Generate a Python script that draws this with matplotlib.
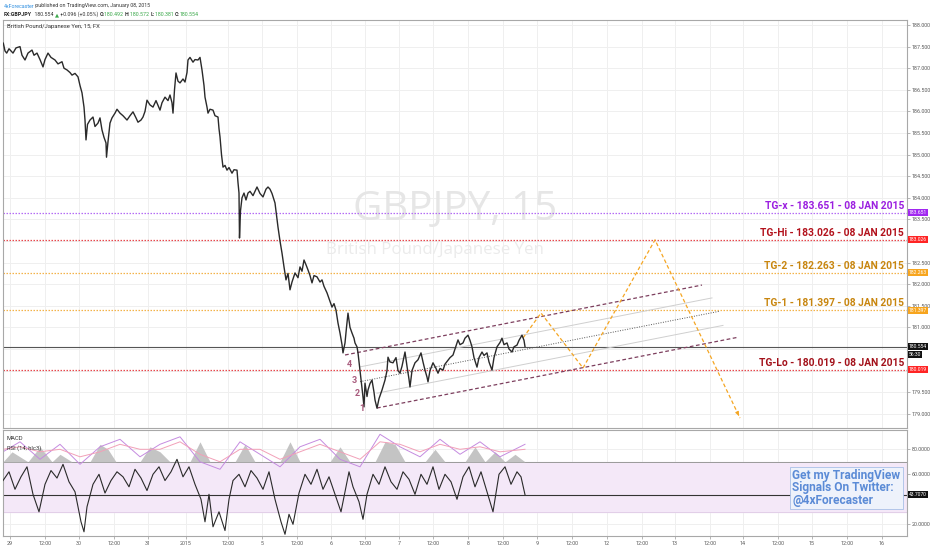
import matplotlib

matplotlib.use("Agg")

import matplotlib.pyplot as plt
import numpy as np
from matplotlib.transforms import blended_transform_factory

# ---- data --------------------------------------------------------------------
# chart time: trading-session timeline, 69 units per trading day (~21 min/unit)
price_t = [
    3.3, 5, 6.7, 9, 13, 16, 20, 22, 25, 28, 32, 34, 37, 40, 43, 45, 48, 51, 55, 58,
    62, 64, 67, 70, 72, 75, 78, 80, 82, 84, 85, 86, 87.5, 90, 93, 95, 98, 100, 102, 104,
    106, 106.5, 108, 110, 112, 115, 117, 120, 123, 127, 130, 133, 136, 138, 141, 143, 145, 147, 150, 153,
    156, 160, 162, 165, 168, 170, 172, 173, 174.5, 176, 178, 180, 183, 185, 187, 188, 190, 193, 195, 198,
    200, 202, 204, 205, 207, 208, 210, 213, 215, 218, 219, 220, 221.5, 223, 225, 227, 229, 232, 234, 237,
    238, 239, 239.5, 240.5, 242, 244, 246, 248, 250, 253, 257, 260, 263, 266, 268, 270, 272, 275, 278, 280,
    282, 284, 286, 288, 290, 292, 295, 298, 300, 302, 304, 306, 308, 310, 312, 314, 317, 320, 322, 324,
    327, 330, 332, 334, 336, 338, 340, 342, 343, 345, 346.5, 348, 350, 352, 354, 355, 357, 358, 360, 361.5,
    363, 364, 365, 367, 368, 370, 372, 374, 375, 377, 379, 382, 385, 387, 388, 390, 393, 396, 398, 400,
    402, 405, 407, 409, 410, 412, 415, 418, 421, 423, 425, 427, 428, 430, 433, 436, 438, 440, 443, 445,
    448, 450, 453, 455, 458, 460, 463, 465, 468, 470, 472, 474, 477, 479, 482, 484, 487, 489, 492, 494,
    497, 500, 502, 504, 507, 509, 512, 514, 517, 519, 522, 524, 525,
]
price = [
    187.58, 187.40, 187.35, 187.45, 187.35, 187.47, 187.50, 187.30, 187.19, 187.35,
    187.42, 187.30, 187.35, 187.20, 187.03, 187.20, 187.35, 187.25, 187.19, 187.10,
    187.15, 187.00, 186.96, 186.90, 186.84, 186.88, 186.80, 186.60, 186.43, 186.10,
    185.80, 185.34, 185.70, 185.80, 185.87, 185.65, 185.73, 185.85, 185.57, 185.40,
    185.27, 184.94, 185.30, 185.73, 185.85, 185.96, 186.05, 185.96, 185.90, 185.80,
    185.90, 185.99, 185.85, 185.75, 185.80, 185.87, 186.00, 186.26, 186.15, 186.10,
    186.25, 186.03, 186.20, 186.33, 186.25, 186.38, 186.20, 185.96, 186.50, 186.89,
    186.70, 186.66, 186.75, 186.68, 186.90, 187.19, 187.25, 187.14, 187.20, 187.19,
    187.25, 186.96, 186.60, 186.33, 186.10, 185.96, 186.05, 186.03, 185.90, 185.87,
    185.60, 185.41, 185.00, 184.71, 184.75, 184.64, 184.70, 184.57, 184.65, 184.64,
    184.35, 184.11, 183.07, 183.70, 184.00, 184.11, 183.95, 184.11, 184.15, 184.05,
    184.25, 184.10, 184.02, 184.20, 184.25, 184.20, 184.10, 183.88, 183.32, 183.00,
    182.72, 182.40, 182.10, 182.25, 181.87, 182.05, 182.26, 182.15, 182.40, 182.30,
    182.56, 182.45, 182.33, 182.20, 182.03, 182.20, 182.17, 182.05, 182.10, 181.95,
    181.80, 181.60, 181.47, 181.55, 181.40, 181.10, 180.87, 180.60, 180.41, 180.64,
    181.00, 181.33, 181.00, 180.87, 180.75, 180.64, 180.55, 180.41, 180.01, 179.70,
    179.39, 179.16, 179.71, 179.40, 179.55, 179.70, 179.78, 179.50, 179.32, 179.13,
    179.35, 179.55, 179.78, 180.00, 180.31, 180.20, 180.18, 180.30, 180.00, 179.94,
    180.10, 180.43, 180.10, 179.80, 179.62, 180.00, 180.18, 180.25, 180.41, 180.20,
    180.01, 179.85, 179.74, 180.00, 180.18, 180.05, 179.94, 180.05, 180.01, 180.15,
    180.24, 180.30, 180.36, 180.50, 180.71, 180.60, 180.64, 180.75, 180.82, 180.70,
    180.55, 180.30, 180.08, 180.30, 180.43, 180.35, 180.41, 180.20, 180.01, 180.30,
    180.55, 180.65, 180.75, 180.60, 180.64, 180.50, 180.43, 180.55, 180.59, 180.70,
    180.82, 180.70, 180.554,
]
last_price = 180.554

tick_t = [10, 45, 79, 114, 148, 186, 228, 262, 297, 331, 365, 399, 433, 468, 503,
          537, 572, 607, 642, 675, 710, 743, 778, 812, 847, 882]
tick_labels = ["29", "12:00", "30", "12:00", "31", "2015", "12:00", "5", "12:00", "6",
               "12:00", "7", "12:00", "8", "12:00", "9", "12:00", "12", "12:00", "13",
               "12:00", "14", "12:00", "15", "12:00", "16"]

tg_names = ["TG-x", "TG-Hi", "TG-2", "TG-1", "TG-Lo"]
tg_levels = [183.651, 183.026, 182.263, 181.397, 180.019]
tg_text_colors = ["#9b1fe0", "#b3121c", "#c8860f", "#c8860f", "#a3111a"]
tg_line_colors = ["#b46cf5", "#e8494e", "#f3b34a", "#f3b34a", "#e8494e"]
tg_box_colors = ["#a128f0", "#ff2424", "#f7a51e", "#f7a51e", "#ff2424"]

# channel: top rail start/end, bottom rail start/end (time, price)
chan_top_t = [345, 702]
chan_top_p = [180.361, 181.98]
chan_bot_t = [377, 737]
chan_bot_p = [179.134, 180.767]
quarter_t = [[360, 712], [360, 720], [377, 723]]

wave_labels = ["1", "2", "3", "4"]
wave_t = [361.7, 357.7, 354, 349.3]
wave_p = [179.12, 179.46, 179.78, 180.13]

proj_t = [523, 541, 583, 655, 740]
proj_p = [180.755, 181.333, 180.06, 183.026, 178.90]

# lower pane: RSI(14, hlc3) and MACD overlay
rsi_t = [3, 9, 15, 21, 27, 33, 39, 45, 51, 57, 63, 69, 75, 81, 84, 87, 93, 99, 105, 111,
         117, 123, 129, 135, 141, 147, 153, 159, 165, 171, 177, 183, 189, 195, 201, 205, 209, 213, 219, 225,
         229, 233, 239, 245, 251, 257, 263, 269, 275, 281, 285, 289, 293, 299, 305, 311, 317, 323, 329, 335,
         341, 345, 349, 353, 359, 363, 367, 373, 379, 385, 391, 397, 403, 409, 415, 421, 427, 433, 439, 445,
         451, 457, 463, 469, 475, 481, 487, 493, 499, 505, 511, 517, 521, 525]
rsi = [55, 62, 48, 58, 66, 44, 30, 52, 63, 57, 68, 54, 46, 22, 14, 34, 52, 60, 45, 55,
       62, 58, 50, 64, 57, 47, 60, 66, 55, 62, 72, 58, 66, 52, 40, 22, 44, 18, 30, 15,
       40, 55, 60, 50, 63, 57, 48, 62, 40, 22, 12, 28, 20, 45, 60, 52, 64, 48, 58, 44,
       30, 46, 62, 50, 38, 24, 44, 60, 52, 66, 54, 48, 62, 56, 44, 60, 52, 66, 48, 60,
       54, 40, 58, 66, 50, 62, 46, 30, 60, 66, 52, 62, 58, 43.707]
rsi_last = 43.707

macd_t = [3, 20, 40, 60, 80, 100, 120, 140, 160, 180, 200, 220, 240, 260, 280, 300,
          320, 340, 360, 380, 400, 420, 440, 460, 480, 500, 525]
macd_line = [78, 86, 72, 84, 68, 82, 88, 74, 84, 90, 70, 64, 86, 76, 66, 82,
             88, 72, 66, 92, 82, 74, 88, 76, 86, 74, 84]
macd_signal = [80, 82, 78, 80, 74, 78, 84, 80, 80, 86, 76, 70, 80, 80, 72, 78,
               84, 78, 72, 86, 84, 78, 84, 80, 82, 78, 80]
hist_t = [3, 12, 20, 28, 40, 52, 60, 72, 90, 100, 108, 116, 140, 150, 160, 170, 190, 200,
          210, 235, 245, 255, 280, 290, 300, 330, 340, 350, 375, 385, 395, 405, 425, 435,
          445, 465, 475, 485, 495, 505, 515, 525]
hist = [70, 78, 74, 70, 82, 70, 76, 70, 70, 84, 80, 70, 70, 82, 78, 70, 70, 86,
        70, 70, 84, 70, 70, 86, 70, 70, 82, 70, 70, 86, 84, 70, 70, 80,
        70, 70, 82, 70, 78, 70, 76, 70]

# ---- figure ------------------------------------------------------------------
plt.rcParams["font.family"] = ["Roboto", "DejaVu Sans"]

W, H = 932, 550
fig = plt.figure(figsize=(W / 100, H / 100), dpi=100, facecolor="white")


def frac(x0, y0, x1, y1):
    return [x0 / W, 1 - y1 / H, (x1 - x0) / W, (y1 - y0) / H]


ax = fig.add_axes(frac(3, 20, 907, 428))
ax2 = fig.add_axes(frac(3, 430, 907, 536), sharex=ax)

grid_col = "#efefef"
axis_txt = "#5a5a5a"
small = 3.9
for a in (ax, ax2):
    a.set_facecolor("white")
    for s in a.spines.values():
        s.set_color("#a8a8a8")
        s.set_linewidth(0.8)
    a.yaxis.tick_right()
    a.tick_params(axis="y", direction="out", length=2, width=0.5, colors="#999999",
                  labelsize=small, labelcolor=axis_txt, pad=1.5)
    for xt in tick_t:
        a.axvline(xt, color=grid_col, lw=0.7, zorder=0)

ax.set_xlim(3, 907)
ax.set_ylim(178.671, 188.116)
yt = np.arange(179.0, 188.01, 0.5)
boxed = tg_levels + [last_price, last_price - 0.19]
ax.set_yticks(yt)
ax.set_yticklabels([f"{v:.3f}" if min(abs(v - b) for b in boxed) > 0.1 else "" for v in yt])
for v in yt:
    ax.axhline(v, color=grid_col, lw=0.7, zorder=0)
ax.tick_params(axis="x", bottom=False, labelbottom=False)

# watermark
ax.text(455, 183.72, "GBPJPY, 15", ha="center", va="center", fontsize=29,
        color="#e6e6e6", family=["Open Sans", "DejaVu Sans"], zorder=0.5)
ax.text(435, 182.80, "British Pound/Japanese Yen", ha="center", va="center",
        fontsize=12.2, color="#ebebeb", family=["Open Sans", "DejaVu Sans"], zorder=0.5)

# target levels
trans = blended_transform_factory(ax.transAxes, ax.transData)
box_kw = dict(transform=trans, ha="left", va="center", fontsize=3.6, color="white", clip_on=False)
for name, lvl, tc, lc, bc in zip(tg_names, tg_levels, tg_text_colors, tg_line_colors, tg_box_colors):
    ax.axhline(lvl, color=lc, lw=0.9, ls=(0, (1.2, 1.2)), zorder=1)
    ax.text(904, lvl + 0.05, f"{name} - {lvl:.3f} - 08 JAN 2015", ha="right", va="bottom",
            fontsize=7.4, fontweight="bold", color=tc, zorder=5)
    ax.text(1.002, lvl, f"{lvl:.3f}", **box_kw,
            bbox=dict(boxstyle="square,pad=0.22", facecolor=bc, edgecolor="none"))

# last price line
ax.axhline(last_price, color="#555555", lw=0.8, zorder=1)
ax.text(1.002, last_price, f"{last_price:.3f}", **box_kw,
        bbox=dict(boxstyle="square,pad=0.22", facecolor="#111111", edgecolor="none"))
ax.text(1.002, last_price - 0.19, "56:30", **box_kw,
        bbox=dict(boxstyle="square,pad=0.22", facecolor="#111111", edgecolor="none"))

# channel
chan_col = "#7d3f5e"
ax.plot(chan_top_t, chan_top_p, color=chan_col, lw=0.9, ls=(0, (3, 2)), zorder=3)
ax.plot(chan_bot_t, chan_bot_p, color=chan_col, lw=0.9, ls=(0, (3, 2)), zorder=3)
slope = (chan_top_p[1] - chan_top_p[0]) / (chan_top_t[1] - chan_top_t[0])
width = (chan_top_p[0] + slope * (chan_bot_t[0] - chan_top_t[0])) - chan_bot_p[0]
for k, (t0, t1), sty in zip([0.25, 0.5, 0.75], quarter_t,
                            [("#cfcfcf", "-"), ("#555555", (0, (1, 1.5))), ("#cfcfcf", "-")]):
    tt = np.array([t0, t1], dtype=float)
    pp = chan_top_p[0] + slope * (tt - chan_top_t[0]) - k * width
    ax.plot(tt, pp, color=sty[0], lw=0.7, ls=sty[1], zorder=2)

# price
ax.plot(price_t, price, color="#2a2a2a", lw=1.0, zorder=4)

for lab, t, p in zip(wave_labels, wave_t, wave_p):
    ax.text(t, p, lab, ha="center", va="center", fontsize=6.5, fontweight="bold",
            color="#a85a7c", zorder=5)

# projected path
ax.plot(proj_t, proj_p, color="#f5a623", lw=0.9, ls=(0, (3, 2)), zorder=3)
ax.annotate("", xy=(proj_t[-1], proj_p[-1]), xytext=(proj_t[-2] + 0.97 * (proj_t[-1] - proj_t[-2]),
            proj_p[-2] + 0.97 * (proj_p[-1] - proj_p[-2])),
            arrowprops=dict(arrowstyle="-|>", color="#f5a623", lw=0.8, mutation_scale=5))

ax.text(0.004, 0.99, "British Pound/Japanese Yen, 15, FX", transform=ax.transAxes,
        ha="left", va="top", fontsize=4.2, color="#333333")

# lower pane
ax2.set_ylim(10.64, 95.44)
ax2.set_yticks([20, 60, 80])
ax2.set_yticklabels(["20.0000", "60.0000", "80.0000"])
for v in [20, 40, 60, 80]:
    ax2.axhline(v, color=grid_col, lw=0.7, zorder=0)
ax2.axhspan(30, 70, color="#f4e8f8", zorder=0.5)
ax2.axhline(70, color="#9a9a9a", lw=0.7, zorder=1)
ax2.axhline(30, color="#e2cfe8", lw=0.7, zorder=1)
ax2.fill_between(hist_t, 70, hist, color="#c4c4c4", lw=0, zorder=1.5)
ax2.plot(macd_t, macd_line, color="#c58be0", lw=0.7, zorder=2)
ax2.plot(macd_t, macd_signal, color="#f2a0b8", lw=0.7, zorder=2)
ax2.plot(rsi_t, rsi, color="#2a2a2a", lw=0.8, zorder=3)
ax2.axhline(rsi_last, color="#333333", lw=0.8, zorder=2)
trans2 = blended_transform_factory(ax2.transAxes, ax2.transData)
ax2.text(1.002, rsi_last, f"{rsi_last:.4f}", transform=trans2, ha="left", va="center",
         fontsize=3.6, color="white", clip_on=False,
         bbox=dict(boxstyle="square,pad=0.22", facecolor="#111111", edgecolor="none"))
ax2.text(0.004, 0.94, "MACD", transform=ax2.transAxes, ha="left", va="top",
         fontsize=4.2, color="#333333")
ax2.text(0.004, 0.86, "RSI (14, hlc3)", transform=ax2.transAxes, ha="left", va="top",
         fontsize=4.2, color="#333333")
ax2.text(0.873, 0.63, "Get my TradingView\nSignals On Twitter:\n@4xForecaster",
         transform=ax2.transAxes, ha="left", va="top", fontsize=8.6, fontweight="bold",
         color="#5b8bd6", linespacing=0.92, zorder=6,
         bbox=dict(boxstyle="square,pad=0.2", facecolor="#eef2fb", edgecolor="#a9bfe6", lw=0.6))

ax2.set_xticks(tick_t)
ax2.set_xticklabels(tick_labels)
ax2.tick_params(axis="x", direction="out", length=2, width=0.5, colors="#999999",
                labelsize=small, labelcolor=axis_txt, pad=1.5)

# header line with coloured pieces
renderer = fig.canvas.get_renderer()


def run_text(x_px, y_px, pieces, size=3.8):
    x = x_px
    for s, col, wt in pieces:
        t = fig.text(x / W, 1 - y_px / H, s, ha="left", va="center", fontsize=size,
                     color=col, fontweight=wt)
        x += t.get_window_extent(renderer).width


run_text(4, 6, [("4xForecaster", "#2f8fe0", "normal"),
                (" published on TradingView.com, January 08, 2015", "#333333", "normal")])
run_text(4, 14.5, [("FX:GBPJPY", "#222222", "bold"), ("  180.554 ", "#333333", "normal"),
                   ("\u25b2", "#3aa84a", "normal"), (" +0.096 (+0.05%) ", "#333333", "normal"),
                   ("O:", "#333333", "bold"), ("180.492 ", "#3aa84a", "normal"),
                   ("H:", "#333333", "bold"), ("180.572 ", "#3aa84a", "normal"),
                   ("L:", "#333333", "bold"), ("180.381 ", "#3aa84a", "normal"),
                   ("C:", "#333333", "bold"), ("180.554", "#3aa84a", "normal")])

fig.savefig("out.png", dpi=100, facecolor="white")
